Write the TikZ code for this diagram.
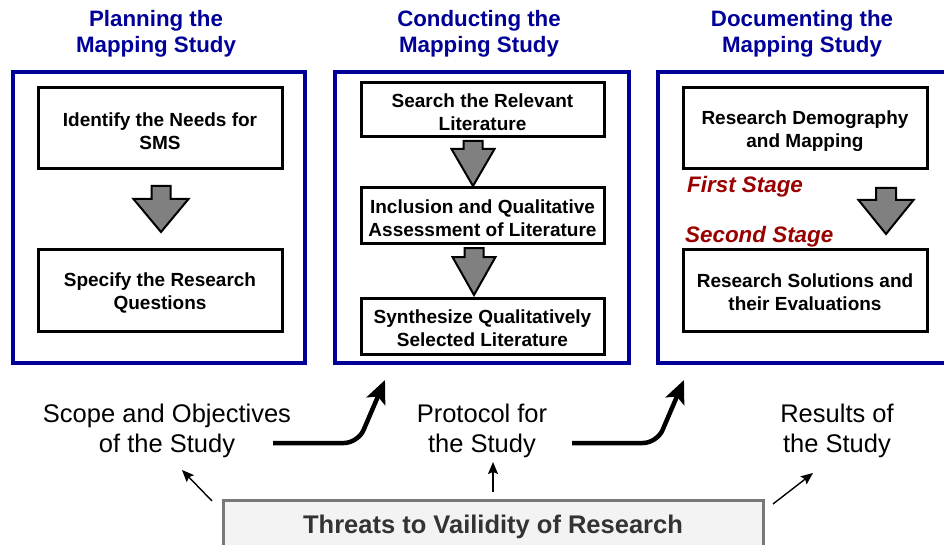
\documentclass[tikz,border=0pt]{standalone}
\usepackage{fontspec}
\setmainfont{Liberation Sans}
\usetikzlibrary{arrows.meta}
\definecolor{navy}{RGB}{0,0,153}
\definecolor{darkred}{RGB}{153,0,0}
\definecolor{arrowgray}{RGB}{128,128,128}
\definecolor{threatfill}{RGB}{243,243,243}
\definecolor{threatborder}{RGB}{120,120,120}
\definecolor{threattext}{RGB}{51,51,51}
\newcommand{\blockarrow}[6]{%
  \draw[blockarr] (#1-#6,#2) -- (#1+#6,#2) -- (#1+#6,#3) -- (#1+#5,#3) -- (#1,#4) -- (#1-#5,#3) -- (#1-#6,#3) -- cycle;}
\newcommand{\topstrut}{\rule{0pt}{19pt}}
\begin{document}
\begin{tikzpicture}[x=1pt,y=-1pt,
  outerbox/.style={draw=navy, line width=4.5pt, inner sep=0pt},
  stepbox/.style={draw=black, line width=3pt, inner sep=0pt, align=center, fill=white,
    font=\bfseries\fontsize{19}{23}\selectfont},
  titletext/.style={text=navy, align=center, font=\bfseries\fontsize{22.3}{26}\selectfont},
  stagetext/.style={text=darkred, inner sep=0pt, anchor=west,
    font=\bfseries\itshape\fontsize{22.4}{26}\selectfont},
  outcome/.style={align=center, font=\fontsize{25.5}{30.5}\selectfont},
  blockarr/.style={fill=arrowgray, draw=black, line width=2pt, line join=miter},
  flow/.style={line width=4.5pt, rounded corners=14pt, -{Stealth[length=23pt,width=20pt,inset=5pt]}},
  thinarrow/.style={line width=1.4pt, -{Stealth[length=12pt,width=10pt,inset=2pt]}}]
\useasboundingbox (0,0) rectangle (944,545);
\clip (0,0) rectangle (944,545);

% titles
\node[titletext] (t1) at (156,34) {Planning the\\Mapping Study};
\node[titletext] (t2) at (479,34) {Conducting the\\Mapping Study};
\node[titletext] (t3) at (802,34) {Documenting the\\Mapping Study};

% outer panels
\node[outerbox, minimum width=292pt, minimum height=291pt] (p1) at (159,217.5) {};
\node[outerbox, minimum width=294pt, minimum height=291pt] (p2) at (482,217.5) {};
\node[outerbox, minimum width=310pt, minimum height=291pt] (p3) at (813,217.5) {};

% panel 1
\node[stepbox, minimum width=244pt, minimum height=81pt] (a1) at (160,128.5) {\topstrut Identify the Needs for\\SMS};
\node[stepbox, minimum width=244pt, minimum height=82pt] (a2) at (160,290) {\topstrut Specify the Research\\Questions};
\blockarrow{161}{186}{199}{232}{27.5}{9.5}

% panel 2
\node[stepbox, minimum width=243pt, minimum height=54pt] (b1) at (482.5,110) {\topstrut Search the Relevant\\Literature};
\node[stepbox, minimum width=243pt, minimum height=56pt] (b2) at (482.5,216) {\topstrut Inclusion and Qualitative\\Assessment of Literature};
\node[stepbox, minimum width=243pt, minimum height=56pt] (b3) at (482.5,326) {\topstrut Synthesize Qualitatively\\Selected Literature};
\blockarrow{473}{141}{149}{186}{21.5}{9.5}
\blockarrow{474}{248}{257}{295}{21.5}{9.5}

% panel 3
\node[stepbox, minimum width=244pt, minimum height=81pt] (c1) at (805,128.5) {\topstrut Research Demography\\and Mapping};
\node[stepbox, minimum width=244pt, minimum height=82pt] (c2) at (805,290) {\topstrut Research Solutions and\\their Evaluations};
\node[stagetext] (s1) at (687,187) {First Stage};
\node[stagetext] (s2) at (685,237) {Second Stage};
\blockarrow{886}{188}{200}{234}{27.5}{10}

% outcomes
\node[outcome] (scope) at (167,431) {Scope and Objectives\\of the Study};
\node[outcome] (proto) at (482,431) {Protocol for\\the Study};
\node[outcome] (res) at (837,431) {Results of\\the Study};

% threats box
\node[draw=threatborder, fill=threatfill, line width=3pt, minimum width=540pt, minimum height=54pt,
  inner sep=0pt, text=threattext, font=\bfseries\fontsize{25.5}{30}\selectfont] (thr) at (493,527)
  {Threats to Vailidity of Research};

% flow arrows
\coordinate (f1s) at (273,443);
\coordinate (f1e) at (385,380);
\coordinate (f2s) at (572,443);
\coordinate (f2e) at (684,380);
\draw[flow] (f1s) -- (358,443) -- (f1e);
\draw[flow] (f2s) -- (657,443) -- (f2e);

% thin arrows
\coordinate (ts1) at (212,501);
\coordinate (te1) at (182,470);
\coordinate (ts2) at (493,492);
\coordinate (te2) at (493,462);
\coordinate (ts3) at (773,504);
\coordinate (te3) at (813,473);
\draw[thinarrow] (ts1) -- (te1);
\draw[thinarrow] (ts2) -- (te2);
\draw[thinarrow] (ts3) -- (te3);
\end{tikzpicture}
\end{document}
